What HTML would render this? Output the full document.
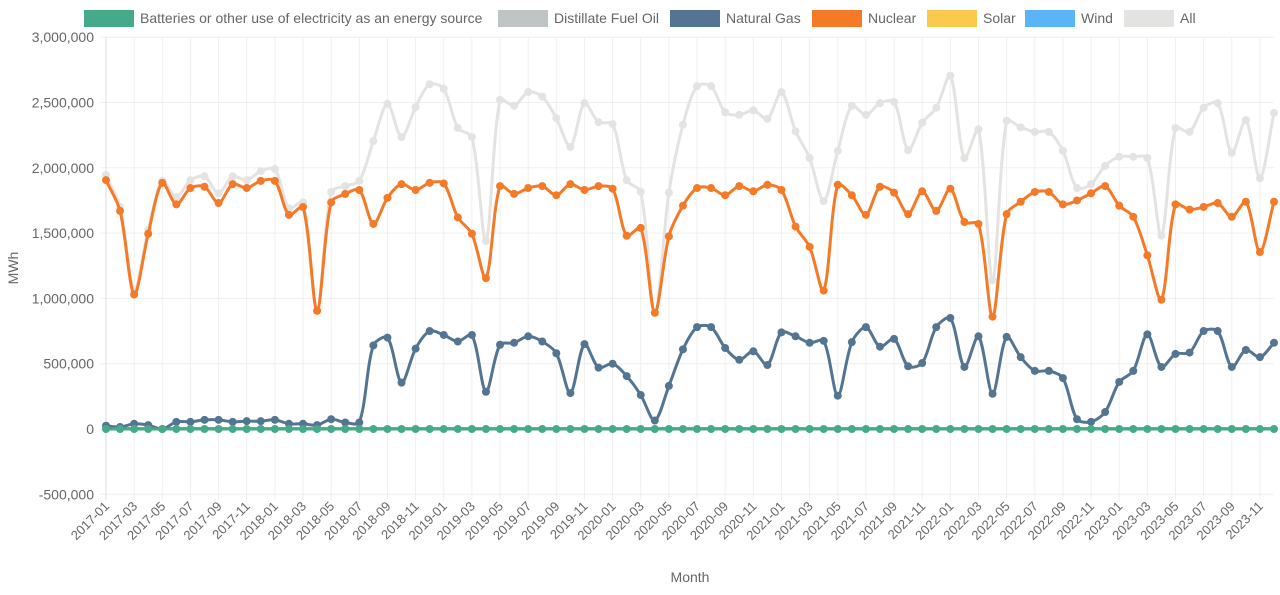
<!DOCTYPE html>
<html><head><meta charset="utf-8"><style>
body{margin:0;background:#fff;font-family:"Liberation Sans",sans-serif;}
svg text{font-family:"Liberation Sans",sans-serif;fill:#666;}
</style></head><body>
<svg id="chart" width="1280" height="590" xmlns="http://www.w3.org/2000/svg">
<g id="legend"></g>
<g id="grid"></g>
<g id="axes"></g>
<g id="series"></g>
<text x="18" y="268" font-size="14" text-anchor="middle" transform="rotate(-90 18 268)">MWh</text>
<text x="690" y="582" font-size="14" text-anchor="middle">Month</text>
</svg>
<script>
const months=[];for(let y=2017;y<=2023;y++)for(let m=1;m<=12;m++)months.push(y+'-'+String(m).padStart(2,'0'));
const yTicks=[-500000,0,500000,1000000,1500000,2000000,2500000,3000000];
const nuclear=[1906,1670,1030,1495,1885,1720,1845,1855,1730,1875,1845,1900,1900,1640,1700,905,1735,1800,1830,1570,1770,1875,1830,1885,1880,1620,1495,1155,1860,1800,1845,1860,1790,1875,1830,1860,1840,1480,1540,890,1475,1710,1845,1845,1790,1860,1820,1870,1830,1550,1395,1060,1870,1790,1640,1855,1810,1645,1820,1670,1840,1585,1570,860,1645,1740,1815,1815,1720,1750,1805,1860,1710,1625,1330,990,1720,1680,1700,1730,1625,1740,1355,1740].map(v=>v*1000);
const gas=[25,15,40,30,0,55,55,70,70,55,60,60,70,40,40,30,75,50,50,640,700,355,615,750,720,670,720,285,645,660,710,670,580,275,650,470,500,405,260,65,330,610,780,780,620,530,595,490,740,710,660,675,255,665,780,630,690,480,505,780,850,475,710,270,705,550,445,445,390,75,55,130,360,445,725,475,575,585,750,750,475,605,550,660].map(v=>v*1000);
const all=[1945,1700,1060,1525,1900,1775,1905,1935,1805,1935,1905,1975,1990,1690,1735,910,1815,1860,1900,2205,2490,2235,2465,2640,2605,2305,2235,1440,2520,2475,2580,2545,2380,2160,2495,2350,2335,1905,1815,890,1810,2330,2625,2625,2425,2405,2440,2375,2580,2280,2075,1745,2130,2475,2405,2495,2505,2135,2345,2460,2705,2075,2295,1140,2360,2310,2275,2275,2130,1845,1875,2015,2085,2085,2075,1480,2305,2275,2460,2495,2115,2365,1920,2420].map(v=>v*1000);
const batteries=months.map(()=>0);
const wind=months.map(()=>4000);
const distillate=months.map(()=>1000);
const solar=months.map(()=>0);
const legendNames=["Batteries or other use of electricity as an energy source","Distillate Fuel Oil","Natural Gas","Nuclear","Solar","Wind","All"];
const legendColors=["#45aa8a","#bfc5c4","#537591","#f47a28","#fbc94d","#5ab4f5","#e3e3e1"];
const legendX=[84,498,670,812,927,1025,1124];

const NS="http://www.w3.org/2000/svg";
const X0=106,X1=1274,Y0=429,PX=65.3/500000;
const xs=i=>X0+(X1-X0)*i/(months.length-1);
const ys=v=>Y0-v*PX;
function el(t,a,p){const e=document.createElementNS(NS,t);for(const k in a)e.setAttribute(k,a[k]);p.appendChild(e);return e;}
const L=document.getElementById('legend'),G=document.getElementById('grid'),A=document.getElementById('axes'),S=document.getElementById('series');
legendNames.forEach((n,i)=>{
  const r=el('rect',{x:legendX[i],y:10,width:50,height:17,fill:legendColors[i]},L);
  
  
  const t=el('text',{x:legendX[i]+56,y:23,'font-size':14},L);t.textContent=n;
  
  
});
yTicks.forEach(v=>{
  const l=el('line',{x1:100,x2:X1,y1:ys(v),y2:ys(v),stroke:v===0?'#e6e6e6':'#efefef','stroke-width':1},G);
  
  
  const t=el('text',{x:94,y:ys(v)+5,'font-size':14,'text-anchor':'end'},A);t.textContent=v.toLocaleString('en-US');
  
  
});
months.forEach((m,i)=>{
  if(i%2)return;
  const x=xs(i);
  const l=el('line',{x1:x,x2:x,y1:ys(3000000),y2:500,stroke:i===0?'#ddd':'#efefef','stroke-width':1},G);
  
  
  const t=el('text',{x:x+4,y:507,'font-size':13,'text-anchor':'end',transform:`rotate(-45 ${x+4} 507)`},A);t.textContent=m;
  
  
});
function path(vals){
  const p=vals.map((v,i)=>[xs(i),ys(v)]);const T=0.3;let d=`M${p[0][0]},${p[0][1]}`;
  const cp=p.map((c,i)=>{const a=p[Math.max(0,i-1)],b=p[Math.min(p.length-1,i+1)];
    const d01=Math.hypot(c[0]-a[0],c[1]-a[1]),d12=Math.hypot(b[0]-c[0],b[1]-c[1]);
    let fa=d01/(d01+d12||1),fb=d12/(d01+d12||1);fa=fa*T;fb=fb*T;
    return [[c[0]-fa*(b[0]-a[0]),c[1]-fa*(b[1]-a[1])],[c[0]+fb*(b[0]-a[0]),c[1]+fb*(b[1]-a[1])]];});
  for(let i=1;i<p.length;i++){const c1=cp[i-1][1],c2=cp[i][0];d+=`C${c1[0]},${c1[1]} ${c2[0]},${c2[1]} ${p[i][0]},${p[i][1]}`;}
  return d;
}
function series(name,vals,color,dots){
  const g=el('g',{},S);
  
  
  const pa=el('path',{d:path(vals),fill:'none',stroke:color,'stroke-width':3},g);
  
  
  if(dots)vals.forEach((v,i)=>{
    const c=el('circle',{cx:xs(i),cy:ys(v),r:4,fill:color},g);
    
    
  });
}
series('all',all,'#e3e3e1',true);
series('distillate',distillate,'#bfc5c4',false);
series('solar',solar,'#fbc94d',false);
series('wind',wind,'#5ab4f5',false);
series('nuclear',nuclear,'#f47a28',true);
series('natural-gas',gas,'#537591',true);
series('batteries',batteries,'#45aa8a',true);
</script>
</body></html>
